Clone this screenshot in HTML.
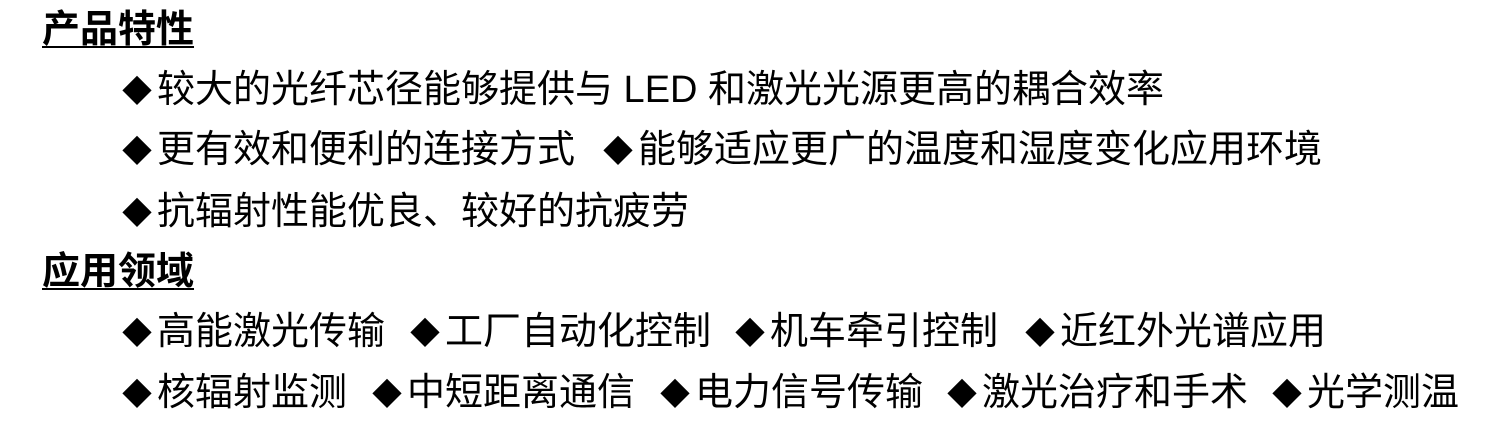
<!DOCTYPE html>
<html><head><meta charset="utf-8">
<style>
html,body{margin:0;padding:0;background:#fff;}
body{width:1500px;height:436px;position:relative;overflow:hidden;
font-family:"Liberation Sans","Noto Sans CJK SC",sans-serif;color:#000;}
.s{position:absolute;font-size:38px;line-height:40px;white-space:nowrap;}
.h{position:absolute;font-size:38px;line-height:40px;font-weight:bold;text-decoration:underline;text-underline-offset:4px;text-decoration-thickness:2px;white-space:nowrap;}
.d{display:inline-block;width:35px;font-size:30px;}
</style></head><body>
<div class="h" style="left:42px;top:10px">产品特性</div>
<div class="s" style="left:122px;top:70px"><span class="d">◆</span>较大的光纤芯径能够提供与 LED 和激光光源更高的耦合效率</div>
<div class="s" style="left:122px;top:130px"><span class="d">◆</span>更有效和便利的连接方式</div>
<div class="s" style="left:603px;top:130px"><span class="d">◆</span>能够适应更广的温度和湿度变化应用环境</div>
<div class="s" style="left:122px;top:192px"><span class="d">◆</span>抗辐射性能优良、较好的抗疲劳</div>
<div class="h" style="left:42px;top:252px">应用领域</div>
<div class="s" style="left:122px;top:312px"><span class="d">◆</span>高能激光传输</div>
<div class="s" style="left:410px;top:312px"><span class="d">◆</span>工厂自动化控制</div>
<div class="s" style="left:735px;top:312px"><span class="d">◆</span>机车牵引控制</div>
<div class="s" style="left:1025px;top:312px"><span class="d">◆</span>近红外光谱应用</div>
<div class="s" style="left:122px;top:373px"><span class="d">◆</span>核辐射监测</div>
<div class="s" style="left:372px;top:373px"><span class="d">◆</span>中短距离通信</div>
<div class="s" style="left:660px;top:373px"><span class="d">◆</span>电力信号传输</div>
<div class="s" style="left:947px;top:373px"><span class="d">◆</span>激光治疗和手术</div>
<div class="s" style="left:1272px;top:373px"><span class="d">◆</span>光学测温</div>
</body></html>
